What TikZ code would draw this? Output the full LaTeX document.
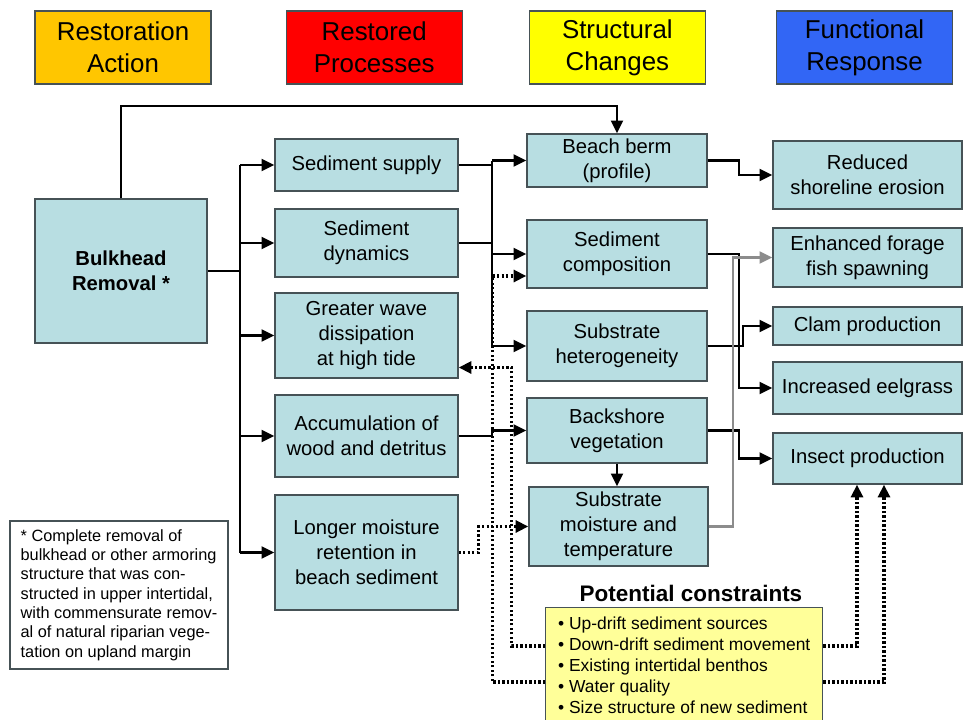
\documentclass[tikz,border=0pt]{standalone}
\usepackage{fontspec}
\setmainfont{Liberation Sans}
\usetikzlibrary{arrows.meta, positioning, calc}
\definecolor{my_orange}{RGB}{255, 198, 0}
\definecolor{my_red}{RGB}{255, 0, 0}
\definecolor{my_yellow}{RGB}{255, 255, 0}
\definecolor{my_blue}{RGB}{50, 102, 245}
\definecolor{my_teal}{RGB}{184, 222, 226}
\definecolor{my_edge}{RGB}{70, 82, 86}
\definecolor{my_cream}{RGB}{255, 255, 153}
\definecolor{my_gray}{RGB}{140, 140, 140}
\tikzset {
  header/.style = {draw=my_edge, line width=0.8pt, minimum width=4.4cm, minimum height=1.825cm, align=center, font=\fontsize{18.4}{22.8}\selectfont},
  box/.style = {draw=my_edge, line width=1pt, fill=my_teal, align=center, inner sep=1pt, font=\fontsize{14.4}{17.8}\selectfont},
  note/.style = {draw=my_edge, line width=1pt, align=left, inner sep=4pt, font=\fontsize{11.6}{13.7}\selectfont},
  wire/.style = {line width=1.5pt, color=black},
  line/.style = {->, wire, >={Triangle[length=9pt, width=8.5pt]}},
  greyline/.style = {line, color=my_gray},
  dotline/.style = {line, line width=2.2pt, dash pattern=on 1.5pt off 1.7pt}
}

\begin{document}
\begin{tikzpicture}[x=0.025cm, y=-0.025cm]
    \useasboundingbox (0,0) rectangle (963,719);

    % column heads
    \node[header, fill=my_orange] (hAction) at (123,47.5) {Restoration\\Action};
    \node[header, fill=my_red, right=1.85cm of hAction] (hProcess) {Restored\\Processes};
    \node[header, fill=my_yellow, right=1.65cm of hProcess] (hStruct) {Structural\\Changes};
    \node[header, fill=my_blue, right=1.75cm of hStruct] (hFunc) {Functional\\Response};

    \node[box, minimum width=4.3cm, minimum height=3.6cm, font=\bfseries\fontsize{14.4}{17.8}\selectfont] (bulk) at (121,271) {Bulkhead\\Removal *};

    % restored processes
    \node[box, minimum width=4.575cm, minimum height=1.3cm] (supply) at (366.5,165) {Sediment supply};
    \node[box, minimum width=4.575cm, minimum height=1.7cm] (dynamics) at (366.5,243) {Sediment\\dynamics};
    \node[box, minimum width=4.575cm, minimum height=2.125cm] (wave) at (366.5,335.5) {Greater wave\\dissipation\\at high tide};
    \node[box, minimum width=4.575cm, minimum height=2.05cm] (accum) at (366.5,436) {Accumulation of\\wood and detritus};
    \node[box, minimum width=4.575cm, minimum height=2.875cm] (longer) at (366.5,552.5) {Longer moisture\\retention in\\beach sediment};

    % structural changes
    \node[box, minimum width=4.5cm, minimum height=1.325cm] (berm) at (617,160.5) {Beach berm\\(profile)};
    \node[box, minimum width=4.5cm, minimum height=1.7cm] (comp) at (617,254) {Sediment\\composition};
    \node[box, minimum width=4.5cm, minimum height=1.75cm] (hetero) at (617,346) {Substrate\\heterogeneity};
    \node[box, minimum width=4.5cm, minimum height=1.625cm] (backshore) at (617,430.5) {Backshore\\vegetation};
    \node[box, minimum width=4.475cm, minimum height=1.975cm] (moist) at (618.5,526.5) {Substrate\\moisture and\\temperature};

    % functional response
    \node[box, minimum width=4.725cm, minimum height=1.7cm] (erosion) at (867.5,175) {Reduced\\shoreline erosion};
    \node[box, minimum width=4.725cm, minimum height=1.475cm] (forage) at (867.5,257.5) {Enhanced forage\\fish spawning};
    \node[box, minimum width=4.725cm, minimum height=0.95cm] (clam) at (867.5,326) {Clam production};
    \node[box, minimum width=4.725cm, minimum height=1.3cm] (eelgrass) at (867.5,388) {Increased eelgrass};
    \node[box, minimum width=4.725cm, minimum height=1.275cm] (insect) at (867.5,458.5) {Insect production};

    \node[note, minimum width=5.45cm, minimum height=3.7cm] (footnote) at (119,595) {* Complete removal of\\bulkhead or other armoring\\structure that was con-\\structed in upper intertidal,\\with commensurate remov-\\al of natural riparian vege-\\tation on upland margin};

    \node[font=\bfseries\fontsize{16}{19}\selectfont] (constrTitle) at (691,593) {Potential constraints};
    \node[draw=my_edge, line width=1pt, fill=my_cream, align=left, minimum width=6.925cm, minimum height=2.875cm, inner xsep=8pt, font=\fontsize{12.4}{14.9}\selectfont, anchor=north west] (constr) at (545,607) {• Up-drift sediment sources\\• Down-drift sediment movement\\• Existing intertidal benthos\\• Water quality\\• Size structure of new sediment};

    % action to processes
    \coordinate (bus1) at (240,271);
    \draw[wire] (bulk.east) -- (bus1);
    \draw[wire] (bus1 |- supply.west) -- (bus1 |- longer.west);
    \foreach \n in {supply, dynamics, wave, accum, longer}
        \draw[line] (bus1 |- \n.west) -- (\n.west);
    \draw[line] (bulk.north) |- ($(berm.north)+(0,-27)$) -- (berm.north);

    % processes to structure
    \coordinate (bus2) at (492,0);
    \draw[wire] (supply.east) -- (bus2 |- supply.east);
    \draw[wire] (dynamics.east) -- (bus2 |- dynamics.east);
    \draw[wire] (bus2 |- berm.west) -- (bus2 |- hetero.west);
    \foreach \n in {berm, comp, hetero}
        \draw[line] (bus2 |- \n.west) -- (\n.west);
    \draw[line] (accum.east) -- (bus2 |- accum.east) |- (backshore.west);
    \draw[line] (backshore.south) -- (backshore.south |- moist.north);
    \draw[dotline] (longer.east) -- ++(20,0) |- (moist.west);

    % structure to response
    \draw[line] (berm.east) -- ++(31,0) |- (erosion.west);
    \draw[line] (comp.east) -- ++(31,0) |- (eelgrass.west);
    \draw[line] (hetero.east) -- ++(35,0) |- (clam.west);
    \draw[line] (backshore.east) -- ++(31,0) |- (insect.west);
    \draw[greyline] (moist.east) -- ++(24,0) |- (forage.west);

    % constraints
    \draw[dotline] ($(constr.north west)+(0,75)$) -| ($(comp.west)+(-34,22)$) -- ($(comp.west)+(0,22)$);
    \draw[dotline] ($(constr.north west)+(0,39)$) -| ($(wave.east)+(53,32)$) -- ($(wave.east)+(0,32)$);
    \draw[dotline] ($(constr.north east)+(0,39)$) -| ($(insect.south)+(-10.5,0)$);
    \draw[dotline] ($(constr.north east)+(0,75)$) -| ($(insect.south)+(16.5,0)$);

\end{tikzpicture}
\end{document}
